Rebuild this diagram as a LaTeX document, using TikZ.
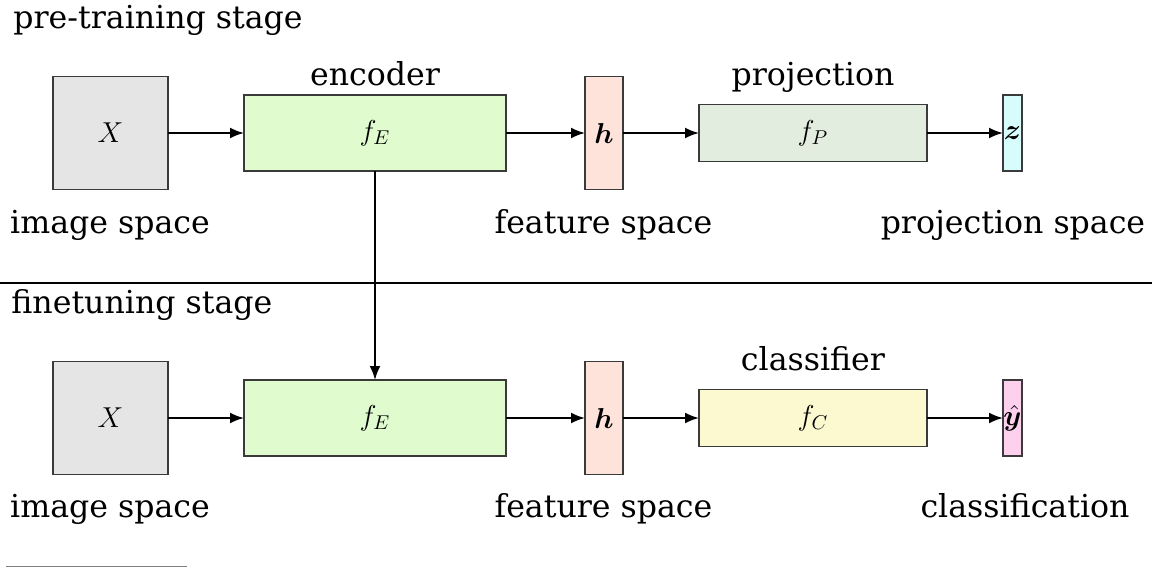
\documentclass[tikz,border=0pt]{standalone}
\usepackage{fontspec}
\setmainfont{DejaVu Serif}
\usepackage{bm}
\usetikzlibrary{arrows.meta}
\definecolor{cX}{HTML}{E5E5E5}
\definecolor{cEnc}{HTML}{E0FCCF}
\definecolor{cH}{HTML}{FDE3DA}
\definecolor{cProj}{HTML}{E2ECDF}
\definecolor{cZ}{HTML}{D6FCFC}
\definecolor{cCls}{HTML}{FCF8D0}
\definecolor{cY}{HTML}{FDD0EE}
\definecolor{bord}{HTML}{3A3A3A}
\tikzset{
  blk/.style={draw=bord, line width=0.7pt, inner sep=0pt, outer sep=0pt, font=\fontsize{14.5}{16}\selectfont},
  lbl/.style={inner sep=0pt, font=\fontsize{15.8}{19}\selectfont},
  arr/.style={line width=1pt, -{Latex[length=7pt,width=5.5pt]}},
}
\begin{document}
\begin{tikzpicture}[x=0.5pt,y=-0.5pt]
\useasboundingbox (0,0) rectangle (1152,568);
% top row
\node[blk, fill=cX, minimum width=57.5pt, minimum height=56.5pt] (x1) at (110.5,133) {$X$};
\node[blk, fill=cEnc, minimum width=131pt, minimum height=38pt] (e1) at (375,133) {$f_E$};
\node[blk, fill=cH, minimum width=19pt, minimum height=56.5pt] (h1) at (604,133) {$\bm{h}$};
\node[blk, fill=cProj, minimum width=114pt, minimum height=28.5pt] (p1) at (813,133) {$f_P$};
\node[blk, fill=cZ, minimum width=9.5pt, minimum height=38pt] (z1) at (1012.5,133) {$\bm{z}$};
\draw[arr] (x1) -- (e1);
\draw[arr] (e1) -- (h1);
\draw[arr] (h1) -- (p1);
\draw[arr] (p1) -- (z1);
\node[lbl, anchor=base west] (t1) at (13,28) {pre-training stage};
\node[lbl, anchor=base] (enc) at (375,85) {encoder};
\node[lbl, anchor=base] (proj) at (813,85) {projection};
\node[lbl, anchor=base] (is1) at (110,233) {image space};
\node[lbl, anchor=base] (fs1) at (603.5,233) {feature space};
\node[lbl, anchor=base] (ps1) at (1013,233) {projection space};
% divider
\coordinate (dl) at (0,283);
\coordinate (dr) at (1152,283);
\draw[line width=1pt] (dl) -- (dr);
% bottom row
\node[blk, fill=cX, minimum width=57.5pt, minimum height=56.5pt] (x2) at (110.5,418) {$X$};
\node[blk, fill=cEnc, minimum width=131pt, minimum height=38pt] (e2) at (375,418) {$f_E$};
\node[blk, fill=cH, minimum width=19pt, minimum height=56.5pt] (h2) at (604,418) {$\bm{h}$};
\node[blk, fill=cCls, minimum width=114pt, minimum height=28.5pt] (c2) at (813,418) {$f_C$};
\node[blk, fill=cY, minimum width=9.5pt, minimum height=38pt] (y2) at (1012.5,418) {$\hat{\bm{y}}$};
\draw[arr] (x2) -- (e2);
\draw[arr] (e2) -- (h2);
\draw[arr] (h2) -- (c2);
\draw[arr] (c2) -- (y2);
\draw[arr] (e1) -- (e2);
\node[lbl, anchor=base west] (t2) at (11,313) {finetuning stage};
\node[lbl, anchor=base] (cls) at (813,370) {classifier};
\node[lbl, anchor=base] (is2) at (110,517) {image space};
\node[lbl, anchor=base] (fs2) at (603.5,517) {feature space};
\node[lbl, anchor=base] (cl2) at (1025,517) {classification};
% footnote rule
\coordinate (fl) at (6,566);
\coordinate (fr) at (187,566);
\draw[gray, line width=0.5pt] (fl) -- (fr);
\end{tikzpicture}
\end{document}
